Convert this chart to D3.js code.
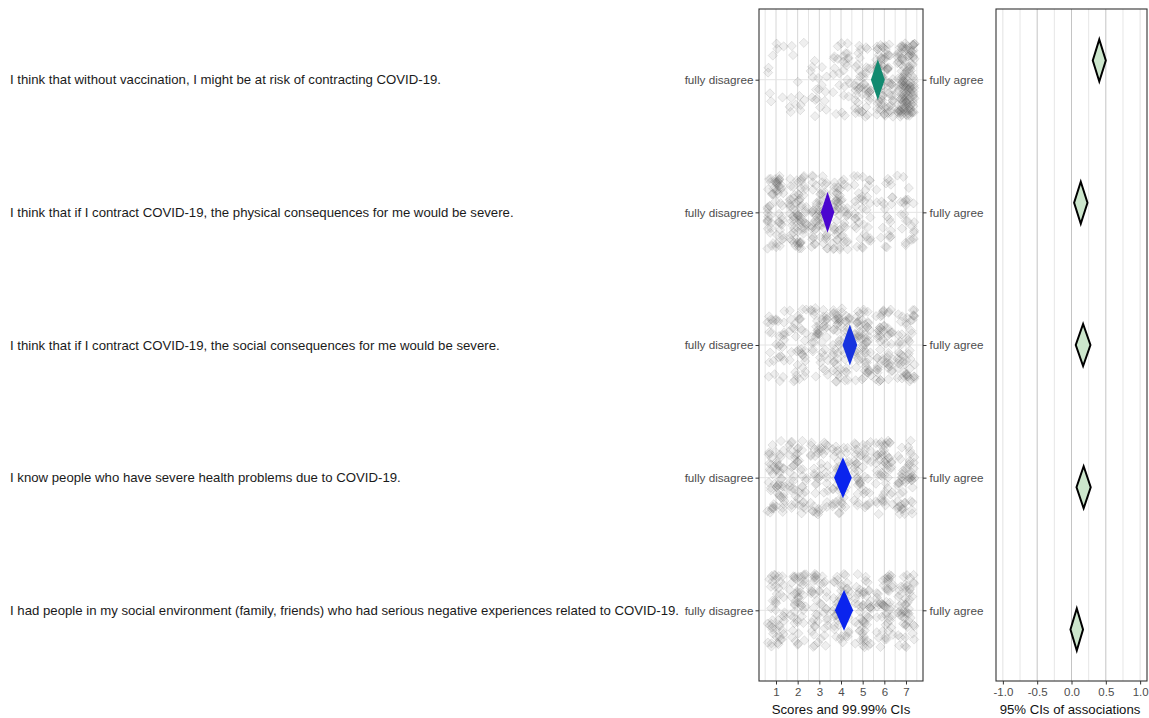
<!DOCTYPE html>
<html>
<head>
<meta charset="utf-8">
<script src="https://cdn.jsdelivr.net/npm/d3@7"></script>
<style>
  html, body { margin: 0; padding: 0; background: #fff; }
  svg { display: block; }
  text { font-family: "Liberation Sans", Arial, sans-serif; }
</style>
</head>
<body>
<svg id="chart" width="1149" height="718"></svg>
<script>
// Survey items (one row each)
const items = [
  "I think that without vaccination, I might be at risk of contracting COVID-19.",
  "I think that if I contract COVID-19, the physical consequences for me would be severe.",
  "I think that if I contract COVID-19, the social consequences for me would be severe.",
  "I know people who have severe health problems due to COVID-19.",
  "I had people in my social environment (family, friends) who had serious negative experiences related to COVID-19."
];

// Response scale 1..7
const scoreTicks = [1, 2, 3, 4, 5, 6, 7];
const anchorLow = "fully disagree";
const anchorHigh = "fully agree";

// Number of respondents choosing each score (1..7), per item
const countsRisk        = [9, 12, 18, 28, 48, 80, 150];
const countsPhysical    = [63, 76, 63, 57, 38, 23, 24];
const countsSocial      = [32, 37, 44, 57, 63, 57, 54];
const countsKnowPeople  = [57, 48, 44, 40, 46, 54, 55];
const countsEnvironment = [48, 48, 46, 46, 52, 52, 53];
const responseCounts = [countsRisk, countsPhysical, countsSocial, countsKnowPeople, countsEnvironment];

// Item means with 99.99% confidence bounds
const itemMeans = [5.70, 3.38, 4.41, 4.09, 4.14];
const itemLow   = [5.38, 3.07, 4.07, 3.68, 3.72];
const itemHigh  = [6.02, 3.69, 4.75, 4.50, 4.56];
const meanColors = ["#128a70", "#4b06cf", "#1733df", "#0a24ee", "#0a24ee"];

// Associations with their 95% confidence intervals
const assocEstimate = [0.405, 0.135, 0.169, 0.177, 0.077];
const assocLow      = [0.31, 0.038, 0.062, 0.073, -0.015];
const assocHigh     = [0.50, 0.233, 0.276, 0.280, 0.168];
const assocTicks = [-1.0, -0.5, 0.0, 0.5, 1.0];

const svg = d3.select("#chart");
const FONT = "Liberation Sans, Arial, sans-serif";

// ---------- layout ----------
const panelTop = 9, panelBottom = 681;
const mid = { left: 759, right: 923 };
const rgt = { left: 996, right: 1147 };

const x = d3.scaleLinear().domain([0.215, 7.785]).range([mid.left, mid.right]);
const xa = d3.scaleLinear().domain([-1.1, 1.1]).range([rgt.left, rgt.right]);
const rowIdx = d3.range(items.length);
const y = d3.scalePoint().domain(rowIdx).range([panelTop, panelBottom]).padding(0.533);
const ya = d3.scalePoint().domain(rowIdx).range([panelTop, panelBottom]).padding(0.362);

// ---------- middle panel: grid ----------
const gMid = svg.append("g");
const minorScores = d3.range(0.5, 8, 1);
gMid.selectAll("line.minor").data(minorScores).join("line")
  .attr("x1", d => x(d)).attr("x2", d => x(d))
  .attr("y1", panelTop).attr("y2", panelBottom)
  .attr("stroke", "#e4e4e4").attr("stroke-width", 1);
gMid.selectAll("line.major").data(scoreTicks).join("line")
  .attr("x1", d => x(d)).attr("x2", d => x(d))
  .attr("y1", panelTop).attr("y2", panelBottom)
  .attr("stroke", "#d6d6d6").attr("stroke-width", 1);
gMid.selectAll("line.row").data(rowIdx).join("line")
  .attr("x1", mid.left).attr("x2", mid.right)
  .attr("y1", d => y(d)).attr("y2", d => y(d))
  .attr("stroke", "#e4e4e4").attr("stroke-width", 1);

// ---------- middle panel: jittered responses ----------
// Deterministic hash-based jitter so the layout is identical on every render
function hash01(a, b, c) {
  let h = (a * 374761393 + b * 668265263 + c * 2147483647) | 0;
  h = Math.imul(h ^ (h >>> 13), 1274126177);
  h = Math.imul(h ^ (h >>> 16), 2246822519);
  h ^= h >>> 15;
  return (h >>> 0) / 4294967296;
}
const points = [];
responseCounts.forEach((counts, q) => {
  counts.forEach((n, s) => {
    for (let k = 0; k < n; k++) {
      const u = hash01(q + 1, s + 11, k * 2 + 1);
      const v = hash01(q + 7, s + 29, k * 2 + 2);
      points.push({ q, score: scoreTicks[s], jx: (u - 0.5) * 0.8, jy: (v - 0.5) * 74 });
    }
  });
});

const diamond = (cx, cy, hw, hh) =>
  `M${cx},${cy - hh}L${cx + hw},${cy}L${cx},${cy + hh}L${cx - hw},${cy}Z`;

gMid.append("g").selectAll("path").data(points).join("path")
  .attr("d", d => diamond(x(d.score + d.jx), y(d.q) + d.jy, 4.6, 4.6))
  .attr("fill", "#606060").attr("fill-opacity", 0.1)
  .attr("stroke", "#606060").attr("stroke-opacity", 0.15).attr("stroke-width", 1);

// means with CI as diamonds
gMid.append("g").selectAll("path").data(rowIdx).join("path")
  .attr("d", q => {
    const cy = y(q), lo = x(itemLow[q]), hi = x(itemHigh[q]), c = x(itemMeans[q]);
    return `M${c},${cy - 20.5}L${hi},${cy}L${c},${cy + 20.5}L${lo},${cy}Z`;
  })
  .attr("fill", q => meanColors[q]);

// border
gMid.append("rect")
  .attr("x", mid.left).attr("y", panelTop)
  .attr("width", mid.right - mid.left).attr("height", panelBottom - panelTop)
  .attr("fill", "none").attr("stroke", "#333").attr("stroke-width", 1.1);

// anchor labels on both sides of the score panel
const leftAxis = svg.append("g").attr("transform", `translate(${mid.left},0)`)
  .call(d3.axisLeft(y).tickSize(3.5).tickPadding(2).tickFormat(() => anchorLow));
const rightAxis = svg.append("g").attr("transform", `translate(${mid.right},0)`)
  .call(d3.axisRight(y).tickSize(3.5).tickPadding(3).tickFormat(() => anchorHigh));
[leftAxis, rightAxis].forEach(a => {
  a.select(".domain").remove();
  a.selectAll(".tick line").attr("stroke", "#333");
  a.selectAll(".tick text").attr("fill", "#4d4d4d").attr("font-size", 11.7)
    .attr("font-family", FONT);
});

// bottom axis
const bottomMid = svg.append("g").attr("transform", `translate(0,${panelBottom})`)
  .call(d3.axisBottom(x).tickValues(scoreTicks).tickSize(3.5).tickPadding(3).tickFormat(d3.format("d")));
bottomMid.select(".domain").remove();
bottomMid.selectAll(".tick line").attr("stroke", "#333");
bottomMid.selectAll(".tick text").attr("fill", "#4d4d4d").attr("font-size", 11.5)
  .attr("font-family", FONT);

svg.append("text").attr("x", (mid.left + mid.right) / 2).attr("y", 714)
  .attr("text-anchor", "middle").attr("font-size", 13.2).attr("fill", "#111")
  .text("Scores and 99.99% CIs");

// ---------- item texts ----------
svg.append("g").selectAll("text").data(rowIdx).join("text")
  .attr("x", 10).attr("y", q => y(q)).attr("dy", "0.35em")
  .attr("font-size", 13.2).attr("fill", "#1a1a1a")
  .text(q => items[q]);

// ---------- right panel ----------
const gR = svg.append("g");
const assocMinor = [-0.75, -0.25, 0.25, 0.75];
gR.selectAll("line.minor").data(assocMinor).join("line")
  .attr("x1", d => xa(d)).attr("x2", d => xa(d))
  .attr("y1", panelTop).attr("y2", panelBottom)
  .attr("stroke", "#e6e6e6");
gR.selectAll("line.major").data(assocTicks).join("line")
  .attr("x1", d => xa(d)).attr("x2", d => xa(d))
  .attr("y1", panelTop).attr("y2", panelBottom)
  .attr("stroke", d => Math.abs(d) === 1 ? "#e2e2e2" : "#c4c4c4");

gR.append("g").selectAll("path").data(rowIdx).join("path")
  .attr("d", q => {
    const cy = ya(q), lo = xa(assocLow[q]), hi = xa(assocHigh[q]), c = xa(assocEstimate[q]);
    return `M${c},${cy - 21}L${hi},${cy}L${c},${cy + 21}L${lo},${cy}Z`;
  })
  .attr("fill", "#cce6cc").attr("stroke", "#000").attr("stroke-width", 2)
  .attr("stroke-linejoin", "miter");

gR.append("rect")
  .attr("x", rgt.left).attr("y", panelTop)
  .attr("width", rgt.right - rgt.left).attr("height", panelBottom - panelTop)
  .attr("fill", "none").attr("stroke", "#333").attr("stroke-width", 1.1);

const bottomR = svg.append("g").attr("transform", `translate(0,${panelBottom})`)
  .call(d3.axisBottom(xa).tickValues(assocTicks).tickSize(3.5).tickPadding(3)
    .tickFormat(d => d3.format(".1f")(d).replace("−", "-")));
bottomR.select(".domain").remove();
bottomR.selectAll(".tick line").attr("stroke", "#333");
bottomR.selectAll(".tick text").attr("fill", "#4d4d4d").attr("font-size", 11.5)
  .attr("font-family", FONT);

svg.append("text").attr("x", (rgt.left + rgt.right) / 2 - 1.5).attr("y", 714)
  .attr("text-anchor", "middle").attr("font-size", 13.2).attr("fill", "#111")
  .text("95% CIs of associations");
</script>
</body>
</html>
